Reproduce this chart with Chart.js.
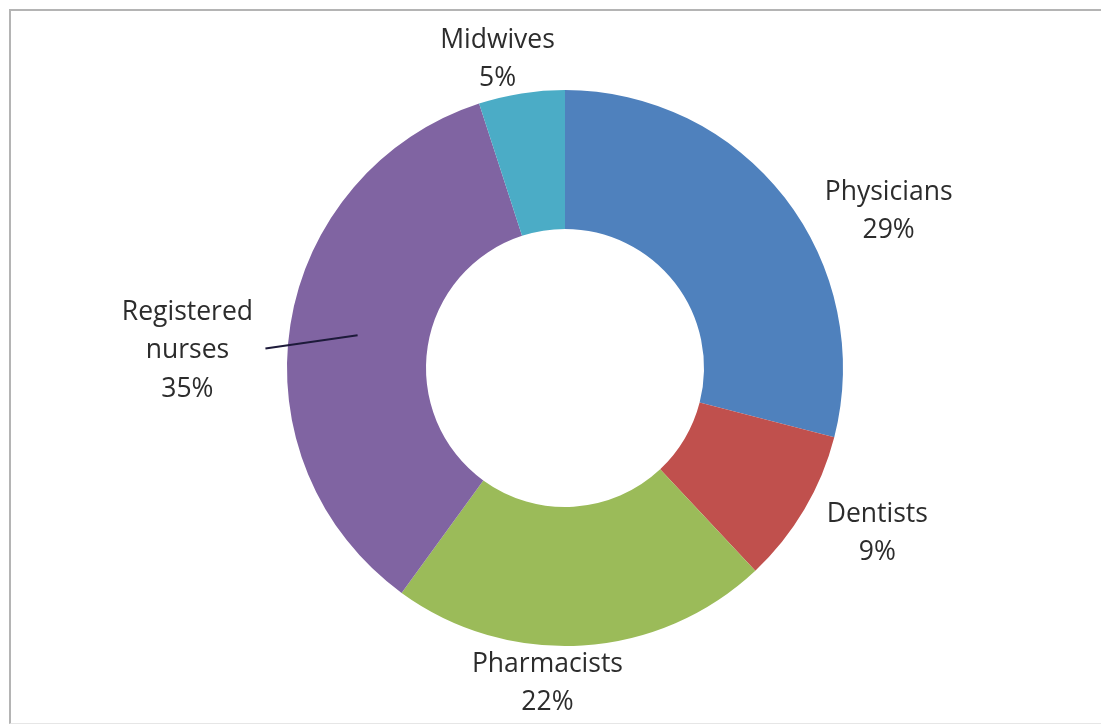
<!DOCTYPE html>
<html>
<head>
<meta charset="utf-8">
<script src="https://cdn.jsdelivr.net/npm/chart.js@4.4.1/dist/chart.umd.min.js"></script>
<style>
  html, body { margin: 0; padding: 0; background: #fff; }
  #wrap { position: relative; width: 1101px; height: 724px; overflow: hidden; }
  #frame {
    position: absolute; left: 9px; top: 9px; width: 1100px; height: 712px;
    border-top: 2px solid #b4b4b4; border-left: 2px solid #b4b4b4;
    border-bottom: 1px solid #e6e6e6;
  }
  canvas { position: absolute; left: 0; top: 0; }
</style>
</head>
<body>
<div id="wrap">
  <div id="frame"></div>
  <canvas id="workforce-chart" width="1101" height="724"></canvas>
</div>
<script>
// Health workforce share (clockwise from 12 o'clock)
const categories = ['Physicians', 'Dentists', 'Pharmacists', 'Registered nurses', 'Midwives'];
const shares = [29, 9, 22, 35, 5];
const labelLines = [['Physicians'], ['Dentists'], ['Pharmacists'], ['Registered', 'nurses'], ['Midwives']];
const sliceColors = ['#4f81bd', '#c0504d', '#9bbb59', '#8064a2', '#4bacc6'];

// where each label block sits relative to the outer edge of its slice (mid angle)
const labelNudge = [[104, 14], [73, 24], [-35, 38], [-103, 26], [-24, -34]];

const outsideLabels = {
    id: 'outsideLabels',
    afterDatasetsDraw(chart) {
        const ctx = chart.ctx;
        const meta = chart.getDatasetMeta(0);
        const lineH = 38.5;
        ctx.save();
        ctx.font = '26.5px "Open Sans", "Liberation Sans", sans-serif';
        ctx.fillStyle = '#2c2c2c';
        ctx.textAlign = 'center';
        ctx.textBaseline = 'middle';

        meta.data.forEach((arc, i) => {
            const p = arc.getProps(['x', 'y', 'startAngle', 'endAngle', 'outerRadius', 'innerRadius'], true);
            const mid = (p.startAngle + p.endAngle) / 2;
            const ex = p.x + Math.cos(mid) * p.outerRadius;
            const ey = p.y + Math.sin(mid) * p.outerRadius;
            const cx = ex + labelNudge[i][0];
            const cy = ey + labelNudge[i][1];

            const lines = labelLines[i].concat([shares[i] + '%']);
            const top = cy - (lines.length - 1) * lineH / 2;
            lines.forEach((t, k) => ctx.fillText(t, cx, top + k * lineH));

            // leader line for the nurses label, as in the original
            if (i === 3) {
                const r = p.outerRadius - 68;
                const sx = p.x + Math.cos(mid) * r;
                const sy = p.y + Math.sin(mid) * r;
                ctx.strokeStyle = '#1d1a3a';
                ctx.lineWidth = 2;
                ctx.beginPath();
                ctx.moveTo(sx, sy);
                ctx.lineTo(cx + 78, cy - 2);
                ctx.stroke();
            }
        });
        ctx.restore();
    }
};

new Chart(document.getElementById('workforce-chart').getContext('2d'), {
    type: 'doughnut',
    data: {
        labels: categories,
        datasets: [{
            data: shares,
            backgroundColor: sliceColors,
            borderWidth: 0
        }]
    },
    options: {
        responsive: false,
        animation: false,
        cutout: '50%',
        layout: { padding: { top: 90, bottom: 78, left: 200, right: 171 } },
        plugins: {
            legend: { display: false },
            tooltip: { enabled: false }
        }
    },
    plugins: [outsideLabels]
});
</script>
</body>
</html>
